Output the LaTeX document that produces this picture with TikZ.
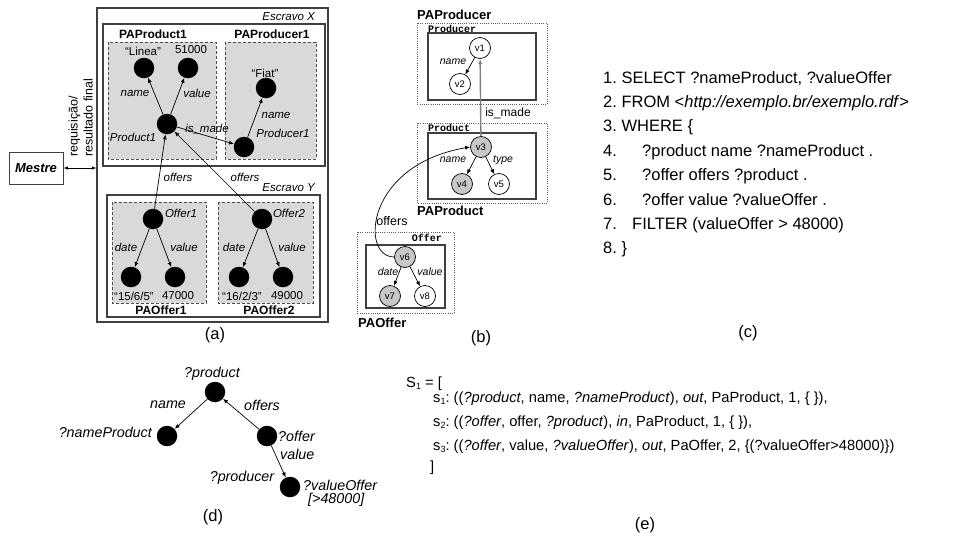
\documentclass[tikz,border=0pt]{standalone}
\usepackage{fontspec}
\setmainfont{Liberation Sans}
\setmonofont{Liberation Mono}
\usetikzlibrary{arrows.meta}
\frenchspacing
\newcommand\setfs[1]{\fontsize{#1}{#1}\selectfont}
\newcommand\lowsub[1]{\raisebox{-0.35ex}{\fontsize{9}{9}\selectfont #1}}

\begin{document}
\begin{tikzpicture}[x=1pt,y=-1pt,
  every node/.style={inner sep=0pt},
  dot/.style={circle, fill=black, minimum size=20.5pt},
  vtx/.style={circle, draw=black, line width=0.7pt, fill=white, minimum size=21pt, font=\setfs{9.5}},
  vgray/.style={vtx, fill=black!22},
  arc/.style={line width=0.7pt, -{Latex[length=5pt,width=4pt]}},
  solidbox/.style={draw=black!75, line width=1.1pt},
  dashbox/.style={draw=black!70, line width=0.8pt, dash pattern=on 3pt off 2pt, fill=black!15},
  dotbox/.style={draw=black!65, line width=0.8pt, dash pattern=on 0.8pt off 1.4pt},
  elbl/.style={font=\setfs{11.5}\itshape},
  vallbl/.style={font=\setfs{11.5}},
  palbl/.style={font=\setfs{12}\bfseries},
  belbl/.style={font=\setfs{10.5}\itshape},
  pabold/.style={font=\setfs{13}\bfseries, anchor=west},
  clslbl/.style={font=\setfs{10}\ttfamily\bfseries},
  qtxt/.style={font=\setfs{16.5}, anchor=base west},
  dlbl/.style={font=\setfs{14.3}\itshape},
  etxt/.style={font=\setfs{14.7}, anchor=base west},
  caption/.style={font=\setfs{16.5}}
]
\useasboundingbox (0,0) rectangle (967,536);
\fill[white] (0,0) rectangle (967,536);

% ---------------- (a) distributed fragments ----------------
\node[solidbox, minimum width=231pt, minimum height=314pt] (slaves) at (212.5,165) {};
\draw[solidbox] (103,24) rectangle (325,166);
\draw[solidbox] (107,195) rectangle (320,317);
\draw[dashbox] (108,42) rectangle (216,159);
\draw[dashbox] (225,42) rectangle (316,159);
\draw[dashbox] (112,202) rectangle (206,303);
\draw[dashbox] (218,202) rectangle (313,303);

\node[font=\setfs{11.5}\itshape, anchor=east] (escx) at (315,17) {Escravo X};
\node[font=\setfs{11.5}\itshape, anchor=east] (escy) at (315,188) {Escravo Y};
\node[palbl] (pap1) at (153,34) {PAProduct1};
\node[palbl] (papr1) at (272,34) {PAProducer1};
\node[palbl] (pao1) at (161,310) {PAOffer1};
\node[palbl] (pao2) at (269,310) {PAOffer2};

\node[dot] (linea) at (144,68) {};
\node[dot] (num51) at (188,68) {};
\node[dot] (prod1) at (167,124) {};
\node[dot] (fiat) at (266,88) {};
\node[dot] (prodr1) at (244,147) {};
\node[dot] (off1) at (153,219) {};
\node[dot] (o1date) at (131,277) {};
\node[dot] (o1val) at (175,277) {};
\node[dot] (off2) at (262,219) {};
\node[dot] (o2date) at (239,277) {};
\node[dot] (o2val) at (283,277) {};

\node[vallbl] (tlinea) at (143,51) {“Linea”};
\node[vallbl] (t51) at (191,50) {51000};
\node[vallbl] (tfiat) at (265,73) {“Fiat”};
\node[elbl] (tprod1) at (133,137) {Product1};
\node[elbl] (tprodr1) at (283,133) {Producer1};
\node[elbl] (tname1) at (135,93) {name};
\node[elbl] (tval1) at (197,93) {value};
\node[elbl] (tname2) at (276,115) {name};
\node[elbl] (tismade) at (207,129) {is\_made};
\node[elbl] (toff1) at (178,177) {offers};
\node[elbl] (toff2) at (245,177) {offers};
\node[elbl] (toffer1) at (181,213) {Offer1};
\node[elbl] (toffer2) at (289,213) {Offer2};
\node[elbl] (td1) at (126,247) {date};
\node[elbl] (tv1) at (184,247) {value};
\node[elbl] (td2) at (234,247) {date};
\node[elbl] (tv2) at (292,247) {value};
\node[vallbl] (t1565) at (134,296) {“15/6/5”};
\node[vallbl] (t47) at (178,296) {47000};
\node[vallbl] (t1623) at (242,296) {“16/2/3”};
\node[vallbl] (t49) at (287,296) {49000};

\draw[arc] (prod1) -- (linea);
\draw[arc] (prod1) -- (num51);
\draw[arc] (prodr1) -- (fiat);
\draw[arc] (prod1) -- (prodr1);
\draw[arc] (off1) -- (prod1);
\draw[arc] (off2) -- (prod1);
\draw[arc] (off1) -- (o1date);
\draw[arc] (off1) -- (o1val);
\draw[arc] (off2) -- (o2date);
\draw[arc] (off2) -- (o2val);

\node[draw=black!75, line width=0.9pt, minimum width=54pt, minimum height=32pt,
      font=\setfs{13}\bfseries\itshape] (mestre) at (36,168) {Mestre};
\draw[line width=0.7pt, {Latex[length=4.5pt,width=3.5pt]}-{Latex[length=4.5pt,width=3.5pt]}]
  (mestre.east) -- (mestre.east -| slaves.west);
\node[rotate=90, anchor=south west, align=left, font=\fontsize{12.5}{15}\selectfont]
  (req) at (93,157) {requisição/\\resultado final};

\node[caption] (capa) at (215,335) {(a)};

% ---------------- (b) class graph ----------------
\draw[dotbox] (417,23) rectangle (547,104);
\draw[solidbox] (428,33) rectangle (536,100);
\draw[dotbox] (417,123) rectangle (547,203);
\draw[solidbox] (428,133) rectangle (536,199);
\draw[dotbox] (357,232) rectangle (454,313);
\draw[solidbox] (366,245) rectangle (445,308);

\node[pabold] (papr) at (417,15) {PAProducer};
\node[pabold] (papd) at (417,211) {PAProduct};
\node[pabold] (paof) at (358,323) {PAOffer};
\node[clslbl, anchor=west] (clsprodr) at (428,28.5) {Producer};
\node[clslbl, anchor=west] (clsprod) at (428,127.5) {Product};
\node[clslbl, anchor=east] (clsoff) at (442,238) {Offer};

\node[vtx] (v1) at (480,48) {v1};
\node[vtx] (v2) at (460,84) {v2};
\node[vgray] (v3) at (481,147) {v3};
\node[vgray] (v4) at (462,184) {v4};
\node[vtx] (v5) at (499,184) {v5};
\node[vgray] (v6) at (405,257) {v6};
\node[vgray] (v7) at (390,296) {v7};
\node[vtx] (v8) at (425,296) {v8};

\node[belbl] (bn1) at (453,62) {name};
\node[belbl] (bn2) at (453,160) {name};
\node[belbl] (bt) at (503,160) {type};
\node[belbl] (bd) at (388,272) {date};
\node[belbl] (bv) at (430,272) {value};
\node[font=\setfs{12}] (bmade) at (508,113) {is\_made};
\node[font=\setfs{12.5}] (boff) at (392,221) {offers};

\draw[arc] (v1) -- (v2);
\draw[arc] (v3) -- (v4);
\draw[arc] (v3) -- (v5);
\draw[arc] (v6) -- (v7);
\draw[arc] (v6) -- (v8);
\draw[line width=1.4pt, draw=black!50, -{Latex[length=5pt,width=4pt]}] (v3) -- (v1);
\draw[arc] (v6.west) .. controls (360,257) and (365,165) .. (v3.west);

\node[caption] (capb) at (481,338) {(b)};

% ---------------- (c) SPARQL query ----------------
\node[qtxt] (q1) at (603,83) {1. SELECT ?nameProduct, ?valueOffer};
\node[qtxt] (q2) at (603,107.4) {2. FROM <\textit{http://exemplo.br/exemplo.rdf}>};
\node[qtxt] (q3) at (603,131.8) {3. WHERE \{};
\node[qtxt] (q4) at (603,156.2) {\makebox[39pt][l]{4.}?product name ?nameProduct .};
\node[qtxt] (q5) at (603,180.6) {\makebox[39pt][l]{5.}?offer offers ?product .};
\node[qtxt] (q6) at (603,205) {\makebox[39pt][l]{6.}?offer value ?valueOffer .};
\node[qtxt] (q7) at (603,229.4) {\makebox[29pt][l]{7.}FILTER (valueOffer > 48000)};
\node[qtxt] (q8) at (603,253.8) {8. \}};

\node[caption] (capc) at (748,333) {(c)};

% ---------------- (d) query graph ----------------
\node[dot] (dprod) at (215,392) {};
\node[dot] (dname) at (167,436) {};
\node[dot] (doffer) at (267,436) {};
\node[dot] (dvalue) at (290,487) {};

\node[dlbl] (tdprod) at (212,374) {?product};
\node[dlbl, anchor=east] (tdname) at (152,432) {?nameProduct};
\node[dlbl, anchor=west] (tdoffer) at (278,436) {?offer};
\node[dlbl, anchor=west] (tdval) at (280,454) {value};
\node[dlbl] (tdprodr) at (242,478) {?producer};
\node[dlbl, anchor=base west] (tdvo) at (303,490) {?valueOffer};
\node[dlbl, anchor=base west] (tdflt) at (308,503.5) {[>48000]};
\node[dlbl] (tdn) at (168,405) {name};
\node[dlbl] (tdo) at (262,405) {offers};

\draw[arc] (dprod) -- (dname);
\draw[arc] (doffer) -- (dprod);
\draw[arc] (doffer) -- (dvalue);

\node[caption] (capd) at (213,517) {(d)};

% ---------------- (e) sub-query list ----------------
\node[etxt] (s0) at (406,387) {S\lowsub{1} = [};
\node[etxt] (s1) at (433,402) {s\lowsub{1}: ((\textit{?product}, name, \textit{?nameProduct}), \textit{out}, PaProduct, 1, \{ \}),};
\node[etxt] (s2) at (433,426) {s\lowsub{2}: ((\textit{?offer}, offer, \textit{?product}), \textit{in}, PaProduct, 1, \{ \}),};
\node[etxt] (s3) at (433,450) {s\lowsub{3}: ((\textit{?offer}, value, \textit{?valueOffer}), \textit{out}, PaOffer, 2, \{(?valueOffer>48000)\})};
\node[etxt] (s4) at (430,471) {]};

\node[caption] (cape) at (645,525) {(e)};
\end{tikzpicture}
\end{document}
